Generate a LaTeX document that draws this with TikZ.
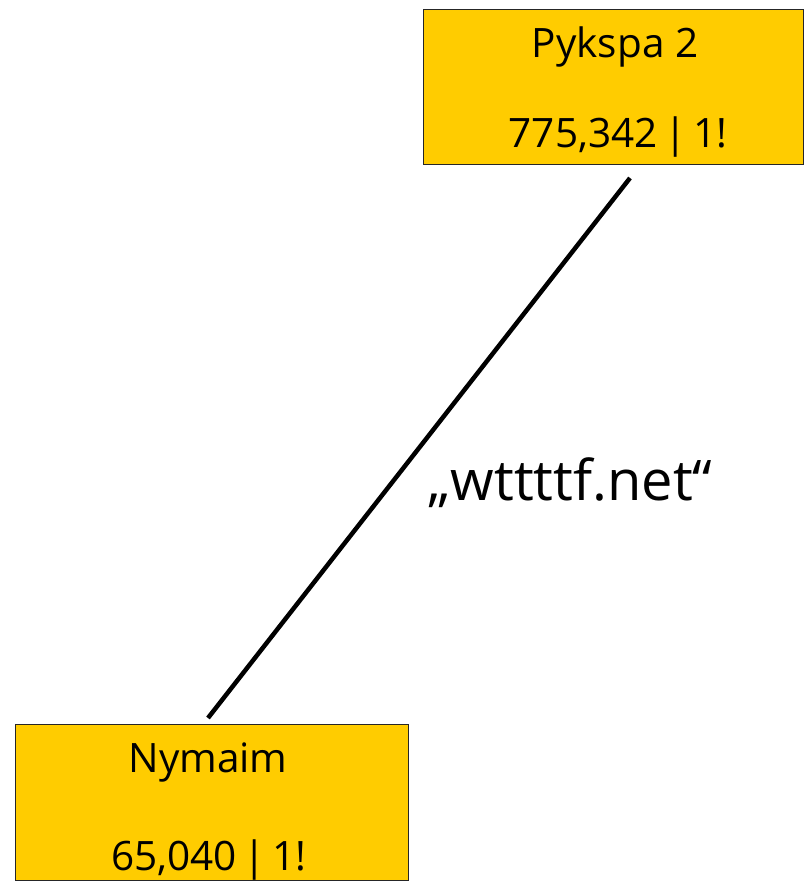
\documentclass[tikz,border=0pt]{standalone}
\usepackage{fontspec}
\setmainfont{Open Sans}
\definecolor{boxfill}{HTML}{FFCC00}
\begin{document}
\begin{tikzpicture}[x=1pt,y=-1pt,
  famcard/.style={draw=black!85, line width=1pt, fill=boxfill, inner sep=0pt},
  cardtext/.style={inner sep=0pt, anchor=base, font=\fontsize{40.5}{42}\selectfont},
  edgetext/.style={inner sep=0pt, anchor=base west, font=\fontsize{56}{58}\selectfont},
  link/.style={line width=4.5pt}]
  \useasboundingbox (0,0) rectangle (804,882);
  % malware family cards
  \node[famcard, minimum width=380pt, minimum height=155pt] (pykspa) at (613,87.5) {};
  \node[cardtext] (pykspaname) at (615,58) {Pykspa 2};
  \node[cardtext] (pykspacount) at (618,148) {775,342\,|\,1!};
  \node[famcard, minimum width=393pt, minimum height=156pt] (nymaim) at (211.5,802) {};
  \node[cardtext] (nymaimname) at (208,772) {Nymaim};
  \node[cardtext] (nymaimcount) at (209,870) {65,040\,|\,1!};
  % shared domain link
  \coordinate (linktop) at (630,178);
  \coordinate (linkbottom) at (208,718);
  \draw[link] (linktop) -- (linkbottom);
  \node[edgetext] (domain) at (428,500) {„wttttf.net“};
\end{tikzpicture}
\end{document}
